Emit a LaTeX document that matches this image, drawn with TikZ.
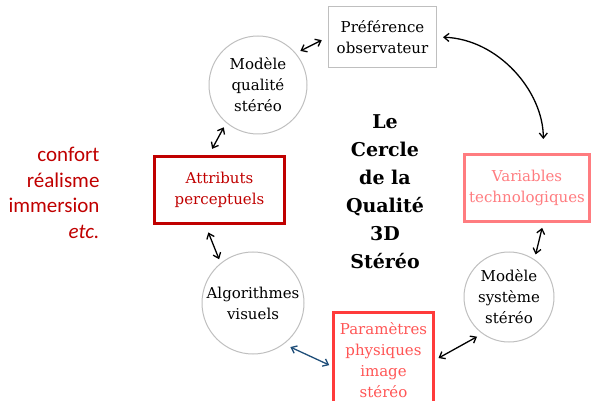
\documentclass[tikz,border=0pt]{standalone}
\usepackage{fontspec}
\setmainfont{DejaVu Serif}
\newfontfamily\qualfont{Carlito}
\usetikzlibrary{arrows.meta}
\definecolor{ringline}{HTML}{BFBFBF}
\definecolor{attrline}{HTML}{C00000}
\definecolor{physline}{HTML}{FF3B3B}
\definecolor{phystext}{HTML}{FF5555}
\definecolor{techline}{HTML}{FF7C80}
\definecolor{algoline}{HTML}{1F4E79}
\tikzset{
  ring/.style  = {circle, draw=ringline, line width=1pt, align=center, inner sep=0pt,
                  font=\fontsize{15}{21}\selectfont},
  gbox/.style  = {draw=ringline, line width=1pt, align=center, inner sep=0pt,
                  font=\fontsize{15}{21}\selectfont},
  rbox/.style  = {gbox, line width=3pt},
  dbl/.style   = {{Straight Barb[length=5pt,width=8pt]}-{Straight Barb[length=5pt,width=8pt]},
                  line width=1.3pt},
  title/.style = {align=center, font=\bfseries\fontsize{19}{28}\selectfont},
  qual/.style  = {align=right, text=attrline, font=\qualfont\fontsize{21}{25.5}\selectfont}
}

\begin{document}
\begin{tikzpicture}[x=1pt, y=-1pt]
  \useasboundingbox (0,0) rectangle (592,401);
  \clip (0,0) rectangle (592,401);
  % the ring
  \node[gbox, minimum width=108pt, minimum height=61pt] (pref) at (382.5,37)
       {Préférence\\observateur};
  \node[ring, minimum size=98pt] (mqs) at (258,85) {Modèle\\qualité\\stéréo};
  \node[rbox, draw=attrline, text=attrline, minimum width=130pt, minimum height=67pt]
       (attr) at (219.5,190) {Attributs\\perceptuels};
  \node[ring, minimum size=102pt] (algo) at (253,303) {Algorithmes\\visuels};
  \node[rbox, draw=physline, text=phystext, minimum width=100pt, minimum height=95pt]
       (phys) at (383.5,360) {Paramètres\\physiques\\image\\stéréo};
  \node[ring, minimum size=90pt] (mss) at (509,297) {Modèle\\système\\stéréo};
  \node[rbox, draw=techline, text=techline, minimum width=125pt, minimum height=67pt]
       (tech) at (527,188) {Variables\\technologiques};
  % centre and side texts
  \node[title] (cercle) at (385,192) {Le\\Cercle\\de la\\Qualité\\3D\\Stéréo};
  \node[qual, anchor=east] (crit) at (103,193)
       {confort\\réalisme\\immersion\\\textit{etc.}};
  % links
  \draw[dbl, shorten <=5pt, shorten >=7pt] (mqs.40) -- (pref.west);
  \draw[dbl, shorten <=6pt, shorten >=14pt] (pref.east) to[out=-2, in=90] (tech.65);
  \draw[dbl, shorten <=5pt, shorten >=5pt] (tech.295) -- (mss.56);
  \draw[dbl, shorten <=4pt, shorten >=6pt] (phys.east) -- (mss.234);
  \draw[dbl, draw=algoline, shorten <=7pt, shorten >=3pt] (algo.307) -- (phys.187);
  \draw[dbl, shorten <=8pt, shorten >=4pt] (attr.248) -- (algo.129);
  \draw[dbl, shorten <=5pt, shorten >=7pt] (mqs.230) -- (attr.107);
\end{tikzpicture}
\end{document}
